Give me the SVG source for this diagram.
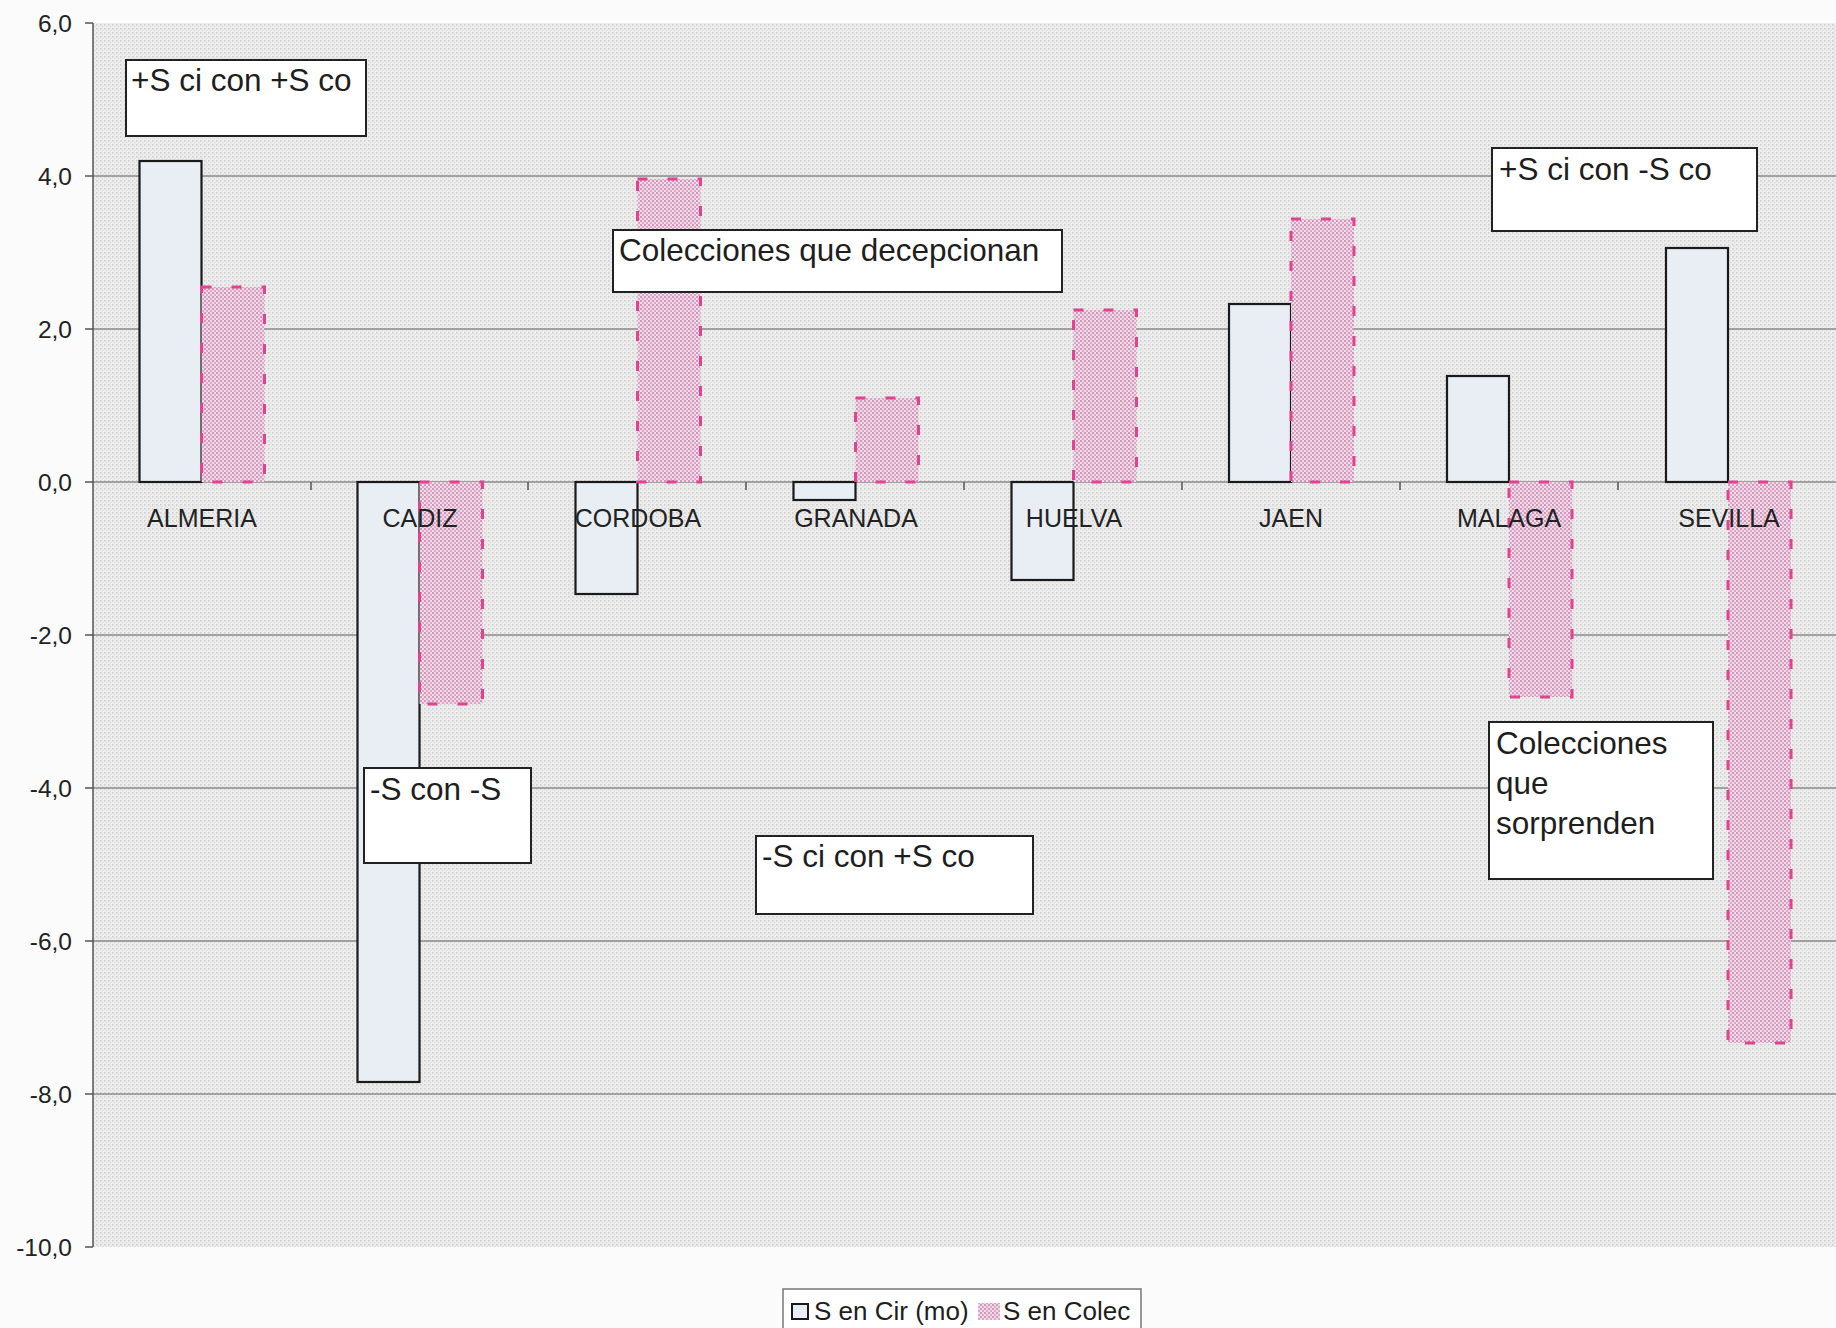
<svg xmlns="http://www.w3.org/2000/svg" width="1836" height="1328" viewBox="0 0 1836 1328">
  <defs>
    <!-- grey halftone of the plot area -->
    <pattern id="plotDots" width="4" height="4" patternUnits="userSpaceOnUse">
      <rect width="4" height="4" fill="#ededed"/>
      <rect x="0" y="0" width="1.6" height="1.6" fill="#cfcfcf"/>
      <rect x="2" y="2" width="1.2" height="1.2" fill="#dadada"/>
    </pattern>
    <!-- pink hatch of the "S en Colec" series -->
    <pattern id="pinkDots" width="4" height="4" patternUnits="userSpaceOnUse">
      <rect width="4" height="4" fill="#f1dbe8"/>
      <circle cx="1" cy="1" r="0.95" fill="#c47aa8"/>
      <circle cx="3" cy="3" r="0.95" fill="#d491ba"/>
    </pattern>
    <style>
      .axis { stroke: #555; stroke-width: 1.5; fill: none; }
      .grid { stroke: #8a8a8a; stroke-width: 1.6; }
      .tick { stroke: #555; stroke-width: 1.5; }
      .ylab { font-family: "Liberation Sans", Arial, sans-serif; font-size: 24.5px; fill: #222; text-anchor: end; }
      .xlab { font-family: "Liberation Sans", Arial, sans-serif; font-size: 25px; fill: #222; text-anchor: middle; }
      .cir { fill: #e8eef4; stroke: #1a1a1a; stroke-width: 2.2; }
      .col { fill: url(#pinkDots); stroke: #e2438f; stroke-width: 3; stroke-dasharray: 10 20; }
      .box { fill: #ffffff; stroke: #222; stroke-width: 2; }
      .note { font-family: "Liberation Sans", Arial, sans-serif; font-size: 31.5px; fill: #1e1e1e; }
      .leg { font-family: "Liberation Sans", Arial, sans-serif; font-size: 26px; fill: #1e1e1e; }
    </style>
  </defs>

  <rect width="1836" height="1328" fill="#fbfbfb"/>

  <!-- plot area -->
  <g id="plot-area">
    <rect x="93" y="23" width="1743" height="1224" fill="url(#plotDots)"/>
  </g>

  <!-- horizontal gridlines every 2,0 -->
  <g id="gridlines">
    <line class="grid" x1="93" y1="176" x2="1836" y2="176"/>
    <line class="grid" x1="93" y1="329" x2="1836" y2="329"/>
    <line class="grid" x1="93" y1="482" x2="1836" y2="482"/>
    <line class="grid" x1="93" y1="635" x2="1836" y2="635"/>
    <line class="grid" x1="93" y1="788" x2="1836" y2="788"/>
    <line class="grid" x1="93" y1="941" x2="1836" y2="941"/>
    <line class="grid" x1="93" y1="1094" x2="1836" y2="1094"/>
  </g>

  <!-- value axis -->
  <g id="y-axis">
    <line class="axis" x1="93" y1="23" x2="93" y2="1247"/>
    <line class="tick" x1="85" y1="23" x2="93" y2="23"/>
    <line class="tick" x1="85" y1="176" x2="93" y2="176"/>
    <line class="tick" x1="85" y1="329" x2="93" y2="329"/>
    <line class="tick" x1="85" y1="482" x2="93" y2="482"/>
    <line class="tick" x1="85" y1="635" x2="93" y2="635"/>
    <line class="tick" x1="85" y1="788" x2="93" y2="788"/>
    <line class="tick" x1="85" y1="941" x2="93" y2="941"/>
    <line class="tick" x1="85" y1="1094" x2="93" y2="1094"/>
    <line class="tick" x1="85" y1="1247" x2="93" y2="1247"/>
    <text class="ylab" x="72" y="32">6,0</text>
    <text class="ylab" x="72" y="185">4,0</text>
    <text class="ylab" x="72" y="338">2,0</text>
    <text class="ylab" x="72" y="491">0,0</text>
    <text class="ylab" x="72" y="644">-2,0</text>
    <text class="ylab" x="72" y="797">-4,0</text>
    <text class="ylab" x="72" y="950">-6,0</text>
    <text class="ylab" x="72" y="1103">-8,0</text>
    <text class="ylab" x="72" y="1256">-10,0</text>
  </g>

  <!-- category ticks on the zero line -->
  <g id="x-ticks">
    <line class="tick" x1="311" y1="482" x2="311" y2="490"/>
    <line class="tick" x1="528" y1="482" x2="528" y2="490"/>
    <line class="tick" x1="746" y1="482" x2="746" y2="490"/>
    <line class="tick" x1="964" y1="482" x2="964" y2="490"/>
    <line class="tick" x1="1182" y1="482" x2="1182" y2="490"/>
    <line class="tick" x1="1400" y1="482" x2="1400" y2="490"/>
    <line class="tick" x1="1618" y1="482" x2="1618" y2="490"/>
  </g>

  <!-- bars: S en Cir (mo) left, S en Colec right -->
  <g id="bars">
    <g id="almeria">
      <rect class="cir" x="139.5" y="161" width="62" height="321"/>
      <rect class="col" x="201.5" y="287" width="63" height="195"/>
    </g>
    <g id="cadiz">
      <rect class="cir" x="357.5" y="482" width="62" height="600"/>
      <rect class="col" x="419.5" y="482" width="63" height="222"/>
    </g>
    <g id="cordoba">
      <rect class="cir" x="575.5" y="482" width="62" height="112"/>
      <rect class="col" x="637.5" y="179" width="63" height="303"/>
    </g>
    <g id="granada">
      <rect class="cir" x="793.5" y="482" width="62" height="18"/>
      <rect class="col" x="855.5" y="398" width="63" height="84"/>
    </g>
    <g id="huelva">
      <rect class="cir" x="1011.5" y="482" width="62" height="98"/>
      <rect class="col" x="1073.5" y="310" width="63" height="172"/>
    </g>
    <g id="jaen">
      <rect class="cir" x="1229" y="304" width="62" height="178"/>
      <rect class="col" x="1291" y="219" width="63" height="263"/>
    </g>
    <g id="malaga">
      <rect class="cir" x="1447" y="376" width="62" height="106"/>
      <rect class="col" x="1509" y="482" width="63" height="215"/>
    </g>
    <g id="sevilla">
      <rect class="cir" x="1666" y="248" width="62" height="234"/>
      <rect class="col" x="1728" y="482" width="63" height="561"/>
    </g>
  </g>

  <!-- category labels -->
  <g id="categories">
    <text class="xlab" x="202" y="527">ALMERIA</text>
    <text class="xlab" x="420" y="527">CADIZ</text>
    <text class="xlab" x="638" y="527">CORDOBA</text>
    <text class="xlab" x="856" y="527">GRANADA</text>
    <text class="xlab" x="1074" y="527">HUELVA</text>
    <text class="xlab" x="1291" y="527">JAEN</text>
    <text class="xlab" x="1509" y="527">MALAGA</text>
    <text class="xlab" x="1729" y="527">SEVILLA</text>
  </g>

  <!-- quadrant annotations -->
  <g id="note-pos-pos">
    <rect class="box" x="126" y="60" width="240" height="76"/>
    <text class="note" x="131" y="91">+S ci con +S co</text>
  </g>
  <g id="note-pos-neg">
    <rect class="box" x="1492" y="148" width="265" height="83"/>
    <text class="note" x="1499" y="180">+S ci con -S co</text>
  </g>
  <g id="note-decepcionan">
    <rect class="box" x="613" y="230" width="449" height="62"/>
    <text class="note" x="619" y="261">Colecciones que decepcionan</text>
  </g>
  <g id="note-neg-neg">
    <rect class="box" x="364" y="768" width="167" height="95"/>
    <text class="note" x="370" y="800">-S con -S</text>
  </g>
  <g id="note-neg-pos">
    <rect class="box" x="756" y="836" width="277" height="78"/>
    <text class="note" x="762" y="867">-S ci con +S co</text>
  </g>
  <g id="note-sorprenden">
    <rect class="box" x="1489" y="722" width="224" height="157"/>
    <text class="note" x="1496" y="754">Colecciones</text>
    <text class="note" x="1496" y="794">que</text>
    <text class="note" x="1496" y="834">sorprenden</text>
  </g>

  <!-- legend -->
  <g id="legend">
    <rect x="783" y="1289" width="358" height="50" fill="#ffffff" stroke="#777" stroke-width="1.5"/>
    <rect x="792" y="1304" width="16" height="15" fill="#e8eef4" stroke="#1a1a1a" stroke-width="2"/>
    <text class="leg" x="814" y="1320">S en Cir (mo)</text>
    <rect x="978" y="1303" width="22" height="17" fill="url(#pinkDots)"/>
    <text class="leg" x="1003" y="1320">S en Colec</text>
  </g>
</svg>
